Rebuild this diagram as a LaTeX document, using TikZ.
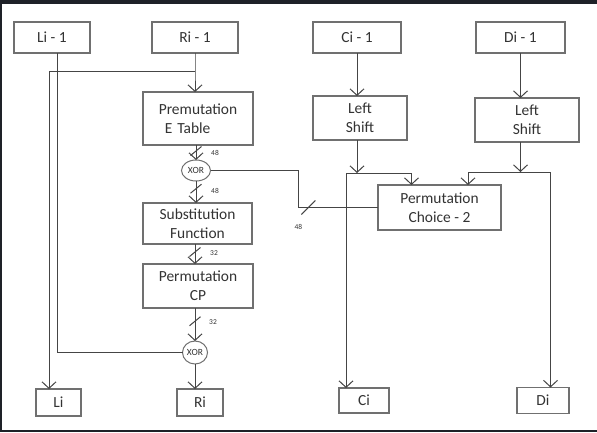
\documentclass[tikz,border=0pt]{standalone}
\usepackage{fontspec}
\setmainfont{Carlito}
\usepackage{tikz}
\usetikzlibrary{positioning,shapes.geometric,arrows.meta}
\definecolor{framedark}{HTML}{1E2128}
\definecolor{boxgray}{HTML}{707070}
\definecolor{linegray}{HTML}{454545}
\definecolor{txtgray}{HTML}{333333}
\tikzset{blk/.style={draw=boxgray,line width=1.2bp,text=txtgray,inner sep=0pt,outer sep=0pt,align=center,
  font=\fontsize{15.5}{19}\selectfont},
  xorc/.style={ellipse,draw=boxgray,line width=1bp,inner sep=0pt,outer sep=0pt,text=txtgray,
  font=\fontsize{9.5}{10}\selectfont},
  line/.style={draw=linegray,line width=1bp},
  arr/.style={line,-{Straight Barb[length=6.5bp,width=14bp]}},
  buslabel/.style={text=txtgray,inner sep=0pt,font=\fontsize{7.5}{9}\selectfont}}
% bus width mark: point, label, shift of label
\newcommand{\busmark}[4]{%
\draw[line] (#1) ++(-5.5,-4.5) -- ++(11,9);
\node[buslabel] (#4) at ([shift={(#3)}]#1) {#2};}
\begin{document}
\begin{tikzpicture}[x=1bp,y=1bp]
\useasboundingbox (0,0) rectangle (597,-432);
\fill[framedark] (0,0) rectangle (597,-432);
\fill[white] (2,-4) rectangle (597,-429.5);
% input row
\node[blk,minimum width=76bp,minimum height=31bp] (li1) at (52,-37.5) {Li - 1};
\node[blk,minimum width=86bp,minimum height=31bp,right=62bp of li1] (ri1) {Ri - 1};
\node[blk,minimum width=88bp,minimum height=31bp,right=75bp of ri1] (ci1) {Ci - 1};
\node[blk,minimum width=89bp,minimum height=31bp,right=75bp of ci1] (di1) {Di - 1};
% round function
\node[blk,minimum width=110bp,minimum height=53bp,below=39bp of ri1,xshift=3bp,align=left] (etab)
  {Premutation\\\hspace*{6bp}E\hspace{5bp}Table};
\node[xorc,minimum width=29bp,minimum height=21bp,below=15bp of etab,xshift=-2bp] (xor1) {XOR};
\node[blk,minimum width=109bp,minimum height=41bp,below=22bp of xor1,xshift=1.5bp] (sub)
  {Substitution\\Function};
\node[blk,minimum width=110bp,minimum height=44bp,below=20bp of sub,xshift=0.5bp] (cp)
  {Permutation\\CP};
\node[xorc,minimum width=25bp,minimum height=23bp,below=33bp of cp,xshift=-3bp] (xor2) {XOR};
% outputs
\node[blk,minimum width=46bp,minimum height=27bp,below=25bp of xor2,xshift=5bp] (ri) {Ri};
\node[blk,minimum width=45bp,minimum height=27bp,left=96bp of ri] (li) {Li};
\node[blk,minimum width=50bp,minimum height=25bp,right=116bp of ri,yshift=2bp] (ci) {Ci};
\node[blk,minimum width=52bp,minimum height=26bp,right=128bp of ci] (di) {Di};
% key schedule
\node[blk,minimum width=94bp,minimum height=44bp,below=43bp of ci1,xshift=3bp] (lsc) {Left\\Shift};
\node[blk,minimum width=104bp,minimum height=44bp,below=45bp of di1,xshift=6.5bp] (lsd) {Left\\Shift};
\node[blk,minimum width=123bp,minimum height=45bp] (pc2) at (439.5,-207.5) {Permutation\\Choice - 2};

% data path
\draw[arr] (ri1.south) -- ++(0,-18) coordinate (rsplit) -- (ri1.south |- etab.north);
\draw[arr] (rsplit) -| ([xshift=-9.5bp]li.north);
\draw[line] ([xshift=5bp]li1.south) |- (xor2.west);
\draw[arr] (xor1.north |- etab.south) -- coordinate[pos=.4] (b1) (xor1.north);
\draw[arr] (xor1.south) -- coordinate[pos=.35] (b2) (xor1.south |- sub.north);
\draw[arr] (xor2.north |- sub.south) -- coordinate[pos=.4] (b3) (xor2.north |- cp.north);
\draw[arr] (xor2.north |- cp.south) -- coordinate[pos=.4] (b4) (xor2.north);
\draw[arr] (xor2.south) -- (xor2.south |- ri.north);
\draw[line] (xor1.east) -| ([xshift=-80bp]pc2.west) -- coordinate[pos=.13] (b5) (pc2.west);
\busmark{b1}{48}{19,-2}{w1}
\busmark{b2}{48}{19,-2}{w2}
\busmark{b3}{32}{19,-1}{w3}
\busmark{b4}{32}{18,-1}{w4}
\draw[line] (b5) ++(-7,-7) -- ++(14,14);
\node[buslabel] (w5) at ([shift={(-10,-19)}]b5) {48};

% key path
\draw[arr] (ci1.south) -- (ci1.south |- lsc.north);
\draw[arr] (lsc.south -| ci1.south) -- ++(0,-33) coordinate (cjoin);
\draw[arr] ([xshift=-11bp]cjoin) coordinate (cleft) -| ([xshift=-28bp]pc2.north);
\draw[arr] (cleft) -- (cleft |- ci.north);
\draw[arr] (di1.south) -- (di1.south |- lsd.north);
\draw[arr] (lsd.south -| di1.south) -- ++(0,-30) coordinate (djoin);
\draw[arr] ([xshift=30bp]djoin) coordinate (dright) -| ([xshift=28.5bp]pc2.north);
\draw[arr] (dright) -- (dright |- di.north);
\end{tikzpicture}
\end{document}
